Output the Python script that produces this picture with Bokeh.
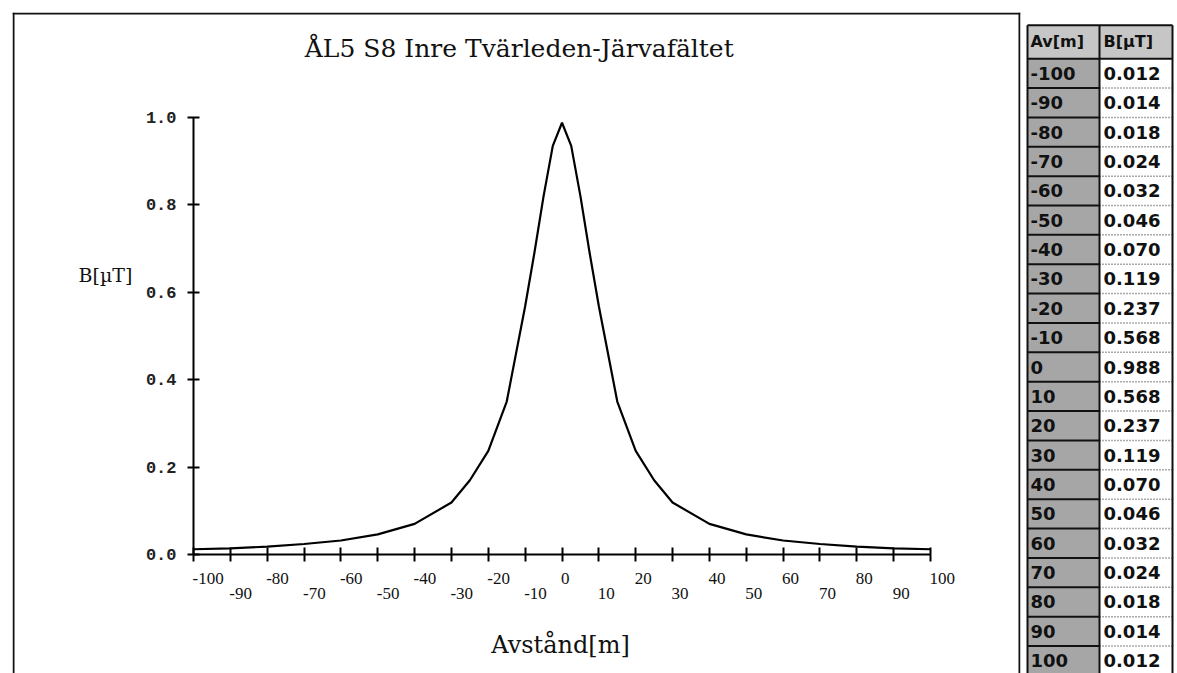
from bokeh.plotting import figure
from bokeh.models import (FixedTicker, PrintfTickFormatter, Label, Range1d, LinearAxis, Span)
from bokeh.layouts import row
from bokeh.embed import file_html
from bokeh.resources import INLINE
from bokeh.core.properties import value

distance_m = [-100, -90, -80, -70, -60, -50, -40, -30, -20, -10, 0,
              10, 20, 30, 40, 50, 60, 70, 80, 90, 100]
field_uT = [0.012, 0.014, 0.018, 0.024, 0.032, 0.046, 0.070, 0.119, 0.237, 0.568, 0.988,
            0.568, 0.237, 0.119, 0.070, 0.046, 0.032, 0.024, 0.018, 0.014, 0.012]
field_text = ["0.012", "0.014", "0.018", "0.024", "0.032", "0.046", "0.070", "0.119", "0.237",
              "0.568", "0.988", "0.568", "0.237", "0.119", "0.070", "0.046", "0.032", "0.024",
              "0.018", "0.014", "0.012"]
curve_extra_m = [-25, -15, -7.5, -5, -2.5, 2.5, 5, 7.5, 15, 25]
curve_extra_uT = [0.17, 0.35, 0.69, 0.82, 0.935, 0.935, 0.82, 0.69, 0.35, 0.17]

x_ticks = [-100, -90, -80, -70, -60, -50, -40, -30, -20, -10, 0,
           10, 20, 30, 40, 50, 60, 70, 80, 90, 100]
x_labels_upper = ["-100", "-80", "-60", "-40", "-20", "0", "20", "40", "60", "80", "100"]
x_labels_lower = ["-90", "-70", "-50", "-30", "-10", "10", "30", "50", "70", "90"]
y_ticks = [0.0, 0.2, 0.4, 0.6, 0.8, 1.0]

title_text = "ÅL5 S8 Inre Tvärleden-Järvafältet"
x_title = "Avstånd[m]"
y_title = "B[µT]"
table_head = ["Av[m]", "B[µT]"]

# ---------------- chart ----------------
pairs = sorted(zip(distance_m + curve_extra_m, field_uT + curve_extra_uT))
curve_x = [a for a, b in pairs]
curve_y = [b for a, b in pairs]

FW, FH = 1008, 661
xr = Range1d(-149.12, 124.42)
yr = Range1d(-0.2723, 1.2403)
p = figure(width=1022, height=673, title=None, x_range=xr, y_range=yr,
           output_backend="svg", toolbar_location=None,
           x_axis_type=None, y_axis_type=None,
           min_border_left=12, min_border_right=2, min_border_top=12, min_border_bottom=0)
p.outline_line_color = None
p.background_fill_color = "white"
p.border_fill_color = "white"

# box around the chart (left, right, top edges; bottom runs off the page)
px = (xr.end - xr.start) / FW
py = (yr.end - yr.start) / FH
for loc, dim in [(xr.start + px, "height"), (xr.end - px, "height"), (yr.end - py, "width")]:
    p.add_layout(Span(location=loc, dimension=dim, line_color="#111111", line_width=2))

xaxis = LinearAxis(fixed_location=0, bounds=(-100, 100),
                   ticker=FixedTicker(ticks=x_ticks),
                   major_label_overrides={t: "" for t in x_ticks},
                   axis_line_width=2, axis_line_color="black",
                   major_tick_in=7, major_tick_out=7,
                   major_tick_line_width=2, major_tick_line_color="black",
                   minor_tick_in=0, minor_tick_out=0)
p.add_layout(xaxis, "below")

yaxis = LinearAxis(fixed_location=-100, bounds=(0, 1),
                   ticker=FixedTicker(ticks=y_ticks),
                   formatter=PrintfTickFormatter(format="%.1f"),
                   axis_line_width=2, axis_line_color="black",
                   major_tick_in=6, major_tick_out=6,
                   major_tick_line_width=2, major_tick_line_color="black",
                   minor_tick_in=0, minor_tick_out=0,
                   major_label_standoff=11,
                   major_label_text_font="Liberation Mono",
                   major_label_text_font_style="bold",
                   major_label_text_font_size="17px",
                   major_label_text_color="#222222")
p.add_layout(yaxis, "left")

p.line(curve_x, curve_y, line_color="black", line_width=2.2)

up_x = [t for t in x_ticks if t % 20 == 0]
lo_x = [t for t in x_ticks if t % 20 != 0]
p.text(x=up_x, y=[0] * len(up_x), text=x_labels_upper, text_align="left",
       text_baseline="middle", y_offset=24, x_offset=-1,
       text_font=value("Liberation Serif"), text_font_size="17px", text_color="#111111")
p.text(x=lo_x, y=[0] * len(lo_x), text=x_labels_lower, text_align="left",
       text_baseline="middle", y_offset=39, x_offset=-1,
       text_font=value("Liberation Serif"), text_font_size="17px", text_color="#111111")

p.add_layout(Label(x=-11.6, y=1.158, text=title_text, text_align="center",
                   text_baseline="middle", text_font="DejaVu Serif",
                   text_font_size="25px", text_color="#111111"))
p.add_layout(Label(x=-0.4, y=-0.208, text=x_title, text_align="center",
                   text_baseline="middle", text_font="DejaVu Serif",
                   text_font_size="24px", text_color="#111111"))
p.add_layout(Label(x=-123.9, y=0.64, text=y_title, text_align="center",
                   text_baseline="middle", text_font="DejaVu Serif",
                   text_font_size="19px", text_color="#111111"))

# ---------------- table ----------------
TW, TH = 155, 673
t = figure(width=TW, height=TH, title=None,
           x_range=Range1d(0, TW), y_range=Range1d(TH, 0),
           output_backend="svg", toolbar_location=None,
           x_axis_type=None, y_axis_type=None, min_border=0)
t.outline_line_color = None
t.background_fill_color = "white"
t.border_fill_color = "white"

L, M, R = 5, 77, 150
head_top, head_bot = 13, 47
pitch = 29.9
n = len(distance_m)
tops = [head_bot + i * pitch for i in range(n)]
bots = [head_bot + (i + 1) * pitch for i in range(n)]
mids = [head_bot + (i + 0.5) * pitch for i in range(n)]

# header cells
t.quad(left=[L, M], right=[M, R], top=[head_top, head_top], bottom=[head_bot, head_bot],
       fill_color="#c6c6c6", line_color=None)
# body cells
t.quad(left=L, right=M, top=tops, bottom=bots, fill_color="#a6a6a6", line_color=None)
# separators
t.segment(x0=M, x1=R, y0=bots, y1=bots, line_color="#555555", line_width=1.5, line_dash="1 2")
t.segment(x0=L, x1=M, y0=bots, y1=bots, line_color="#111111", line_width=2)
t.segment(x0=[L, M, R, L, L], x1=[L, M, R, R, R],
          y0=[head_top, head_top, head_top, head_top, head_bot],
          y1=[TH, TH, TH, head_top, head_bot], line_color="#111111", line_width=2)

t.text(x=[L + 3, M + 4], y=[(head_top + head_bot) / 2] * 2, text=table_head,
       text_align="left", text_baseline="middle", text_font=value("DejaVu Sans"),
       text_font_style="bold", text_font_size="16px", text_color="#111111")
t.text(x=[L + 3] * n, y=mids, text=[str(d) for d in distance_m],
       text_align="left", text_baseline="middle", text_font=value("DejaVu Sans"),
       text_font_style="bold", text_font_size="18px", text_color="#111111")
t.text(x=[M + 4] * n, y=mids, text=field_text,
       text_align="left", text_baseline="middle", text_font=value("DejaVu Sans"),
       text_font_style="bold", text_font_size="18px", text_color="#111111")

layout = row(p, t)
open("out.html", "w").write(file_html(layout, INLINE))
